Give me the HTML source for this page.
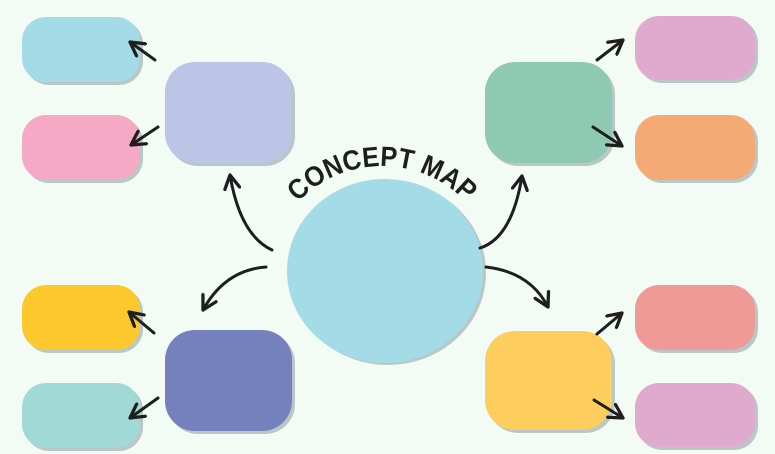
<!DOCTYPE html>
<html><head><meta charset="utf-8"><style>
html,body{margin:0;padding:0;background:#f3fbf5;}
svg{display:block}
</style></head><body>
<svg width="775" height="454" viewBox="0 0 775 454" xmlns="http://www.w3.org/2000/svg">
<rect width="775" height="454" fill="#f3fbf5"/>
<defs>
<marker id="ah" viewBox="0 0 12 12" refX="10" refY="6" markerWidth="6" markerHeight="6" orient="auto" markerUnits="strokeWidth">
<path d="M1,1 L10,6 L1,11" fill="none" stroke="#1e1e1e" stroke-width="2.2" stroke-linecap="round" stroke-linejoin="round"/>
</marker>
<path id="arc" d="M 284 220 A 116 116 0 0 1 480 220"/>
</defs>
<g>
<g fill="#b9c8c6">
<rect x="25" y="20" width="118" height="65" rx="24"/>
<rect x="25" y="118" width="118" height="65" rx="24"/>
<rect x="168" y="65" width="127" height="101" rx="30"/>
<rect x="25" y="288" width="118" height="65" rx="24"/>
<rect x="25" y="386" width="118" height="65" rx="24"/>
<rect x="168" y="333" width="127" height="101" rx="30"/>
<rect x="488" y="65" width="127" height="101" rx="30"/>
<rect x="638" y="19" width="120" height="64" rx="24"/>
<rect x="638" y="118" width="120" height="65" rx="24"/>
<rect x="638" y="288" width="120" height="65" rx="24"/>
<rect x="488" y="334" width="127" height="99" rx="30"/>
<rect x="638" y="386" width="120" height="64" rx="24"/>
<ellipse cx="388" cy="273" rx="98" ry="92"/>
</g>
<rect x="22" y="17" width="118" height="65" rx="24" fill="#a3dbe6"/>
<rect x="22" y="115" width="118" height="65" rx="24" fill="#f5a9c4"/>
<rect x="165" y="62" width="127" height="101" rx="30" fill="#bcc5e5"/>
<rect x="22" y="285" width="118" height="65" rx="24" fill="#fdc82c"/>
<rect x="22" y="383" width="118" height="65" rx="24" fill="#a1d9d6"/>
<rect x="165" y="330" width="127" height="101" rx="30" fill="#7581bd"/>
<rect x="485" y="62" width="127" height="101" rx="30" fill="#8ecab3"/>
<rect x="635" y="16" width="120" height="64" rx="24" fill="#dfaacd"/>
<rect x="635" y="115" width="120" height="65" rx="24" fill="#f5aa76"/>
<rect x="635" y="285" width="120" height="65" rx="24" fill="#f09a98"/>
<rect x="485" y="331" width="127" height="99" rx="30" fill="#fdcd5e"/>
<rect x="635" y="383" width="120" height="64" rx="24" fill="#dfaacd"/>
<ellipse cx="385" cy="271" rx="98" ry="92" fill="#a3dbe6"/>
</g>
<g fill="none" stroke="#1e1e1e" stroke-width="3" stroke-linecap="round">
<path d="M155 60 L130 42" marker-end="url(#ah)"/>
<path d="M158 127 L131 145" marker-end="url(#ah)"/>
<path d="M272 250 Q240 235 230 175" marker-end="url(#ah)"/>
<path d="M266 267 Q225 270 203 310" marker-end="url(#ah)"/>
<path d="M154 333 L129 312" marker-end="url(#ah)"/>
<path d="M158 398 L130 418" marker-end="url(#ah)"/>
<path d="M480 248 Q512 238 522 176" marker-end="url(#ah)"/>
<path d="M597 60 L623 40" marker-end="url(#ah)"/>
<path d="M593 127 L622 146" marker-end="url(#ah)"/>
<path d="M486 267 Q530 272 548 307" marker-end="url(#ah)"/>
<path d="M597 334 L622 313" marker-end="url(#ah)"/>
<path d="M594 400 L623 418" marker-end="url(#ah)"/>
</g>
<text font-family="Liberation Sans, sans-serif" font-weight="bold" font-size="28" fill="#1e1e1e" text-anchor="middle">
<textPath href="#arc" startOffset="50%" textLength="188" lengthAdjust="spacingAndGlyphs">CONCEPT MAP</textPath>
</text>
</svg>
</body></html>
